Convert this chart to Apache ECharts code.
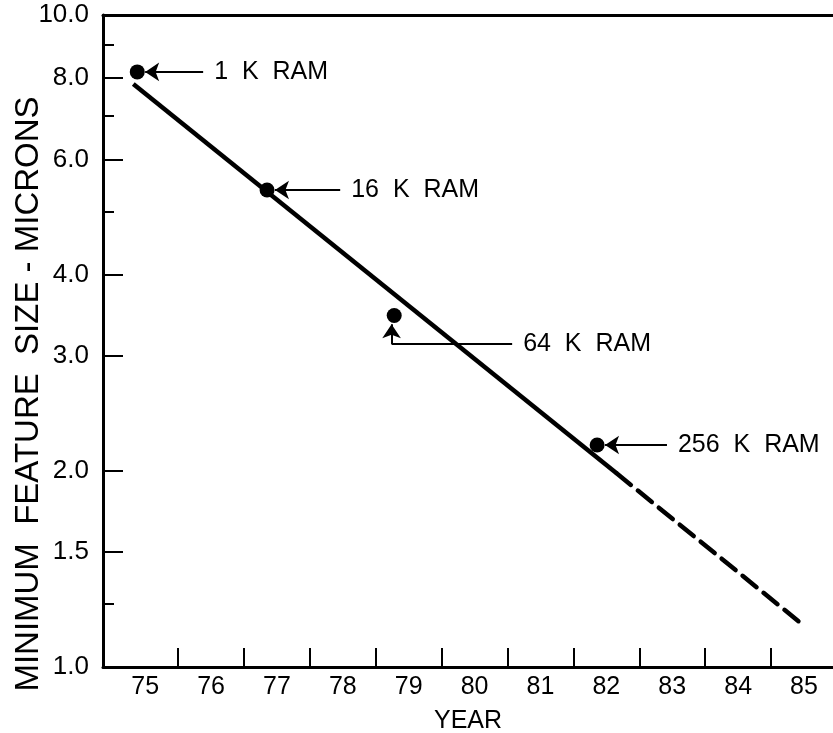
<!DOCTYPE html>
<html>
<head>
<meta charset="utf-8">
<script src="https://cdn.jsdelivr.net/npm/echarts@6/dist/echarts.min.js"></script>
<style>
html, body { margin: 0; padding: 0; background: #fff; }
#chart { width: 833px; height: 733px; }
</style>
</head>
<body>
<div id="chart"></div>
<script>
// RAM generations: year vs. minimum feature size (microns)
var chipNames = ["1 K RAM", "16 K RAM", "64 K RAM", "256 K RAM"];
var chipYears = [74.88, 76.85, 78.78, 81.86];
var chipSizes = [8.18, 5.39, 3.46, 2.19];

// trend line: solid part, then projected (dashed) part
var trendYears = [74.82, 82.16];
var trendSizes = [7.84, 1.98];
var projYears = [82.16, 84.94];
var projSizes = [1.98, 1.17];

// where each callout text starts
var calloutYears = [75.88, 77.96, 80.57, 82.92];
var calloutSizes = [8.18, 5.39, 3.13, 2.19];

// axis ticks
var yearLabels = [75, 76, 77, 78, 79, 80, 81, 82, 83, 84, 85];
var yearTicks = [75.5, 76.5, 77.5, 78.5, 79.5, 80.5, 81.5, 82.5, 83.5, 84.5];
var sizeLabels = [1, 1.5, 2, 3, 4, 6, 8, 10];
var sizeMinorTicks = [1.25, 5, 7, 9];

var font = "Liberation Sans";

function pairs(xs, ys) {
  return xs.map(function (x, i) { return [x, ys[i]]; });
}

// callout arrows, built from the point and callout positions
var arrows = [];
chipNames.forEach(function (name, i) {
  var text = name.replace(/ /g, "  ");
  if (calloutSizes[i] === chipSizes[i]) {
    arrows.push([
      { coord: [calloutYears[i], calloutSizes[i]], name: text, symbol: "none" },
      { coord: [chipYears[i] + 0.12, chipSizes[i]], symbol: "arrow" }
    ]);
  } else {
    // elbow: horizontal run, then up to the point
    var xe = chipYears[i] - 0.04;
    arrows.push([
      { coord: [calloutYears[i], calloutSizes[i]], name: text, symbol: "none" },
      { coord: [xe, calloutSizes[i]], symbol: "none" }
    ]);
    arrows.push([
      { coord: [xe, calloutSizes[i]], name: "", symbol: "none" },
      { coord: [xe, chipSizes[i] * 0.97], symbol: "arrow" }
    ]);
  }
});

var chart = echarts.init(document.getElementById("chart"));
chart.setOption({
  animation: false,
  backgroundColor: "#fff",
  grid: { left: 103, right: 0, top: 15, bottom: 66, outerBoundsMode: "none" },
  xAxis: [
    {
      type: "value",
      min: 74.36,
      max: 85.44,
      position: "bottom",
      name: "YEAR",
      nameLocation: "middle",
      nameGap: 42,
      nameMoveOverlap: false,
      nameTextStyle: { color: "#000", fontSize: 25, fontFamily: font },
      axisLine: { lineStyle: { color: "#000", width: 3 } },
      axisTick: {
        inside: true,
        length: 19,
        customValues: yearTicks,
        lineStyle: { color: "#000", width: 2 }
      },
      axisLabel: {
        customValues: yearLabels,
        color: "#000",
        fontSize: 25,
        fontFamily: font,
        margin: 8
      },
      splitLine: { show: false }
    },
    {
      type: "value",
      min: 74.36,
      max: 85.44,
      position: "top",
      axisLine: { show: true, lineStyle: { color: "#000", width: 3 } },
      axisTick: { show: false },
      axisLabel: { show: false },
      splitLine: { show: false }
    }
  ],
  yAxis: [
    {
      type: "log",
      logBase: 10,
      min: 1,
      max: 10,
      name: "MINIMUM  FEATURE  SIZE - MICRONS",
      nameLocation: "middle",
      nameRotate: 90,
      nameGap: 58,
      nameMoveOverlap: false,
      nameTextStyle: {
        color: "#000",
        fontSize: 33,
        fontFamily: font,
        padding: [0, 106, 0, 0]
      },
      axisLine: { show: true, lineStyle: { color: "#000", width: 3 } },
      axisTick: {
        show: true,
        inside: true,
        length: 20,
        customValues: sizeLabels,
        lineStyle: { color: "#000", width: 2 }
      },
      axisLabel: {
        customValues: sizeLabels,
        color: "#000",
        fontSize: 26,
        fontFamily: font,
        margin: 14,
        formatter: function (v) { return Number(v).toFixed(1); }
      },
      splitLine: { show: false }
    },
    {
      type: "log",
      logBase: 10,
      min: 1,
      max: 10,
      position: "left",
      axisLine: { show: false },
      axisTick: {
        show: true,
        inside: true,
        length: 11,
        customValues: sizeMinorTicks,
        lineStyle: { color: "#000", width: 2 }
      },
      axisLabel: { show: false },
      splitLine: { show: false }
    }
  ],
  series: [
    {
      type: "line",
      data: pairs(trendYears, trendSizes),
      symbol: "none",
      lineStyle: { color: "#000", width: 4.5 }
    },
    {
      type: "line",
      data: pairs(projYears, projSizes),
      symbol: "none",
      lineStyle: { color: "#000", width: 4.5, type: [18, 9], cap: "round" }
    },
    {
      type: "scatter",
      data: pairs(chipYears, chipSizes),
      symbolSize: 15,
      itemStyle: { color: "#000", opacity: 1 },
      markLine: {
        silent: true,
        symbolSize: 14,
        lineStyle: { color: "#000", width: 2, type: "solid", opacity: 1 },
        label: {
          show: true,
          position: "start",
          distance: 11,
          color: "#000",
          fontSize: 25,
          fontFamily: font,
          formatter: function (p) { return p.name; }
        },
        data: arrows
      }
    }
  ]
});
</script>
</body>
</html>
